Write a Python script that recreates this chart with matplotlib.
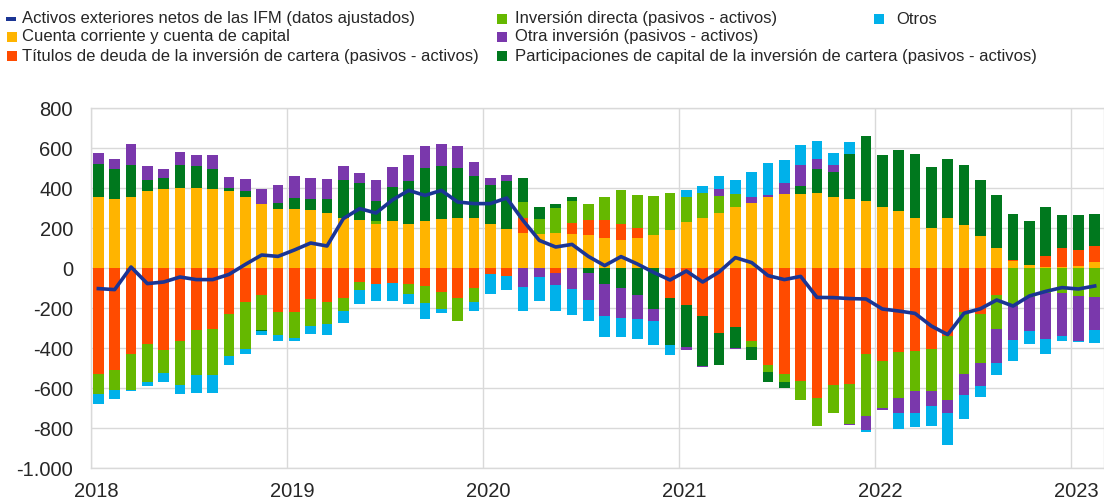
import numpy as np
import matplotlib
matplotlib.use("Agg")
import matplotlib.pyplot as plt
from matplotlib import font_manager
from matplotlib.patches import Rectangle
from matplotlib.lines import Line2D
from matplotlib.transforms import ScaledTranslation

# ---------------- data (EUR bn, monthly 2018-01 .. 2023-02) ----------------
years = ["2018", "2019", "2020", "2021", "2022", "2023"]
ytick_values = [800, 600, 400, 200, 0, -200, -400, -600, -800, -1000]
ytick_labels = ["800", "600", "400", "200", "0", "-200", "-400", "-600", "-800", "-1.000"]

cuenta_corriente = [355, 347, 355, 383, 397, 402, 402, 397, 383, 355, 318, 295,
                    295, 292, 277, 250, 242, 222, 235, 222, 235, 243, 250, 250,
                    220, 195, 175, 172, 175, 172, 163, 152, 142, 152, 163, 192,
                    230, 250, 277, 305, 327, 355, 372, 368, 377, 355, 347, 333,
                    305, 285, 250, 202, 250, 213, 158, 100, 35, 17, 5, 5, 10, 30]
titulos_deuda = [-528, -508, -432, -382, -408, -365, -308, -303, -232, -170, -133, -222,
                 -222, -153, -170, -148, -70, -82, -73, -82, -90, -122, -152, -102,
                 -30, -42, 75, 0, -25, 55, 78, 90, 77, 48, 0, -148,
                 -187, -240, -323, -295, -365, -487, -528, -565, -650, -587, -578, -432,
                 -465, -422, -414, -406, -342, -220, -228, -133, 3, 0, 53, 97, 78, 80]
inversion_directa = [-100, -103, -180, -188, -115, -222, -228, -233, -208, -233, -175, -115,
                     -127, -137, -112, -68, -42, 12, 0, -50, -85, -83, -112, -70,
                     0, 0, 80, 72, 125, 107, 77, 113, 170, 167, 197, 183,
                     125, 127, 83, 63, -30, -33, -42, -97, -140, -138, -200, -308,
                     -233, -226, -200, -208, -320, -308, -245, -170, -190, -145, -125, -125, -140, -145]
participaciones = [167, 150, 158, 55, 55, 112, 108, 100, 18, 28, -7, 30,
                   55, 55, 70, 188, 185, 100, 168, 212, 267, 267, 252, 208,
                   193, 238, 120, 62, 22, 22, -25, -78, -98, -133, -203, -235,
                   -208, -250, -163, -103, -67, -50, -28, 42, 120, 125, 225, 325,
                   262, 305, 318, 303, 293, 303, 280, 267, 233, 218, 247, 162, 175, 162]
otra_inversion = [53, 48, 108, 72, 43, 67, 57, 70, 53, 63, 78, 92,
                  112, 105, 98, 70, 48, 105, 100, 133, 107, 112, 107, 72,
                  37, 30, -95, -45, -62, -103, -137, -162, -150, -120, -62, 0,
                  -13, -5, 37, -5, 28, 8, 53, 107, 47, 37, -8, -72,
                  -13, -77, -111, -77, -63, -105, -118, -170, -168, -172, -228, -215, -227, -163]
otros = [-53, -42, -5, -20, -47, -45, -88, -88, -43, -25, -22, -27,
         -16, -38, -55, -57, -70, -85, -92, -48, -78, -20, 0, -42,
         -98, -67, -118, -122, -127, -133, -103, -105, -97, -103, -122, -53,
         37, 33, 63, 70, 125, 162, 113, 100, 92, 58, 58, -8,
         0, -78, -70, -98, -162, -120, -53, -63, -107, -62, -75, -25, -5, -65]
activos_netos = [-103, -108, 5, -78, -70, -45, -58, -58, -32, 18, 65, 58,
                 90, 125, 110, 247, 297, 275, 340, 388, 363, 388, 330, 322,
                 322, 350, 238, 138, 105, 118, 58, 12, 57, 20, -22, -60,
                 -15, -70, -20, 52, 27, -38, -58, -42, -147, -148, -153, -155,
                 -205, -215, -227, -290, -333, -226, -204, -160, -190, -140, -117, -98, -105, -90]

lbl_line = "Activos exteriores netos de las IFM (datos ajustados)"
lbl_cc = "Cuenta corriente y cuenta de capital"
lbl_td = "Títulos de deuda de la inversión de cartera (pasivos - activos)"
lbl_id = "Inversión directa (pasivos - activos)"
lbl_oi = "Otra inversión (pasivos - activos)"
lbl_pc = "Participaciones de capital de la inversión de cartera (pasivos - activos)"
lbl_ot = "Otros"

# ---------------- styling ----------------
C_LINE = "#1B3594"
C_YEL = "#FFB400"
C_ORA = "#FF4B00"
C_LGR = "#65B800"
C_DGR = "#00781E"
C_PUR = "#7A38AC"
C_CYA = "#00B1EA"
TXT = "#262626"
GRID = "#D9D9D9"

names = {f.name for f in font_manager.fontManager.ttflist}
tick_font = "Liberation Sans" if "Liberation Sans" in names else "DejaVu Sans"
leg_font = "Liberation Sans Narrow" if "Liberation Sans Narrow" in names else tick_font

W, H = 1104, 504
fig = plt.figure(figsize=(W / 100, H / 100), dpi=100)
px_month = (1071 - 91) / 60.0
ax = fig.add_axes([91 / W, 1 - 468 / H, (W - 91) / W, 360 / H])

series = [
    (cuenta_corriente, C_YEL),
    (titulos_deuda, C_ORA),
    (inversion_directa, C_LGR),
    (participaciones, C_DGR),
    (otra_inversion, C_PUR),
    (otros, C_CYA),
]
n = len(activos_netos)
x = np.arange(n) + 0.45
pos_base = np.zeros(n)
neg_base = np.zeros(n)
for vals, col in series:
    v = np.asarray(vals, dtype=float)
    pos = np.where(v > 0, v, 0)
    neg = np.where(v < 0, v, 0)
    ax.bar(x, pos, bottom=pos_base, width=0.66, color=col, linewidth=0, zorder=2)
    ax.bar(x, neg, bottom=neg_base, width=0.66, color=col, linewidth=0, zorder=2)
    pos_base += pos
    neg_base += neg

ax.plot(x, activos_netos, color=C_LINE, lw=2.6, zorder=3, solid_joinstyle="round")

ax.set_xlim(0, (W - 91) / px_month)
ax.set_ylim(-1000, 800)
ax.set_yticks(ytick_values)
ax.set_yticklabels(ytick_labels)
ax.set_xticks(np.arange(len(years)) * 12)
ax.set_xticklabels(years)
ax.grid(True, color=GRID, lw=1, zorder=0)
ax.set_axisbelow(True)
for s in ax.spines.values():
    s.set_color(GRID)
    s.set_linewidth(1)
ax.tick_params(axis="both", length=0, labelsize=14.5, labelcolor=TXT)
ax.tick_params(axis="y", pad=13)
ax.tick_params(axis="x", pad=10)
for lab in ax.get_yticklabels() + ax.get_xticklabels():
    lab.set_fontfamily(tick_font)
for lab in ax.get_xticklabels():
    lab.set_transform(lab.get_transform() + ScaledTranslation(5 / 100, 0, fig.dpi_scale_trans))

# ---------------- legend (manual layout) ----------------
def fy(py):
    return 1 - py / H

entries = [
    ("line", C_LINE, lbl_line, 6, 22, 19),
    ("box", C_YEL, lbl_cc, 7, 22, 37),
    ("box", C_ORA, lbl_td, 7, 22, 56),
    ("box", C_LGR, lbl_id, 497, 515, 19),
    ("box", C_PUR, lbl_oi, 497, 515, 37),
    ("box", C_DGR, lbl_pc, 497, 515, 56),
    ("box", C_CYA, lbl_ot, 874, 896, 19),
]
texts = []
for kind, col, lab, mx, tx, ty in entries:
    if kind == "line":
        fig.add_artist(Rectangle((mx / W, fy(ty + 2)), 10 / W, 4 / H,
                                 transform=fig.transFigure, color=col, lw=0))
    else:
        fig.add_artist(Rectangle((mx / W, fy(ty + 5)), 10 / W, 10 / H,
                                 transform=fig.transFigure, color=col, lw=0))
    t = fig.text(tx / W, fy(ty), lab, ha="left", va="center", fontsize=12,
                 family=leg_font, color=TXT)
    texts.append(t)

# fit legend font size so the long label spans its width in the reference
fig.canvas.draw()
r = fig.canvas.get_renderer()
w = texts[2].get_window_extent(r).width
size = 12 * 456 / w
for t in texts:
    t.set_fontsize(size)

fig.savefig("out.png", dpi=100)
